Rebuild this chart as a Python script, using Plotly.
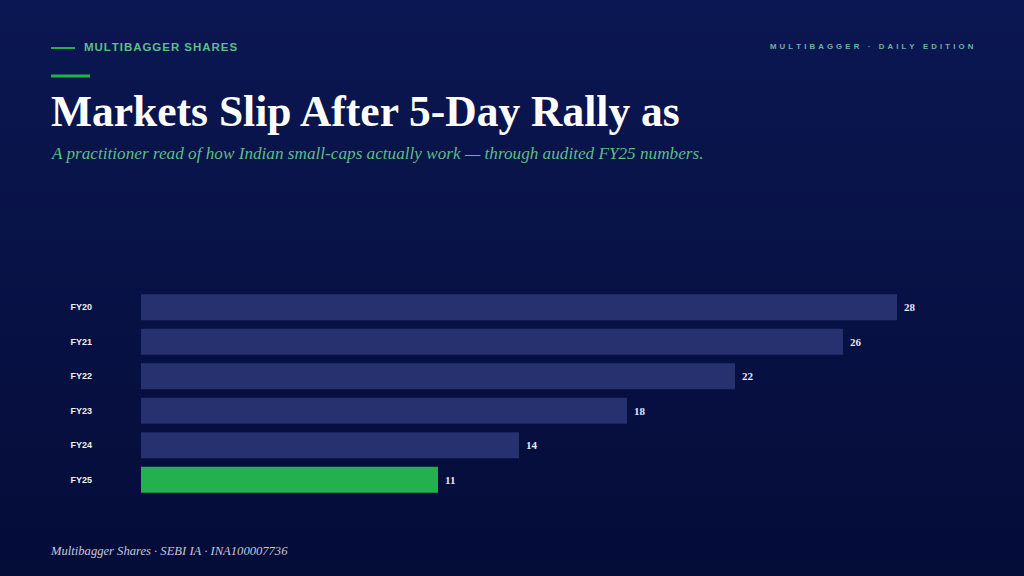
import plotly.graph_objects as go

# fiscal years and the values shown on each bar
years = ["FY20", "FY21", "FY22", "FY23", "FY24", "FY25"]
values = [28, 26, 22, 18, 14, 11]
highlight = "FY25"

kicker = "MULTIBAGGER SHARES"
edition = "MULTIBAGGER · DAILY EDITION"
title = "Markets Slip After 5-Day Rally as"
subtitle = "A practitioner read of how Indian small-caps actually work — through audited FY25 numbers."
footer = "Multibagger Shares · SEBI IA · INA100007736"

BAR = "#283170"
GREEN = "#22b24d"
ACCENT = "#5cbf86"


def spaced(s, gap):
    # poor man's letter-spacing, plotly has no css letter-spacing
    return gap.join(list(s))


colors = [GREEN if y == highlight else BAR for y in years]

fig = go.Figure()
fig.add_trace(go.Bar(
    x=values,
    y=years,
    orientation="h",
    marker=dict(color=colors, line=dict(width=0)),
    hoverinfo="skip",
))

# value labels just past the end of each bar
for y, v in zip(years, values):
    fig.add_annotation(
        x=v, y=y, xref="x", yref="y",
        text=str(v), showarrow=False,
        xanchor="left", xshift=5,
        font=dict(family="Liberation Serif", size=11, color="#e8e8f0", weight="bold"),
    )

W, H = 1024, 576
L, R, T, B = 141, 46, 290, 79
pw, ph = W - L - R, H - T - B


def px(x):
    return (x - L) / pw


def py(y):
    return (H - B - y) / ph


# background: fake vertical gradient with thin strips over the whole page
n = 36
top = (11, 23, 82)
bot = (4, 12, 56)
for i in range(n):
    t = i / (n - 1)
    c = tuple(round(top[k] + (bot[k] - top[k]) * t) for k in range(3))
    fig.add_shape(
        type="rect", xref="paper", yref="paper", layer="below",
        x0=px(-5), x1=px(W + 5),
        y0=py(H * (i + 1) / n + 1), y1=py(H * i / n),
        line=dict(width=0), fillcolor="rgb(%d,%d,%d)" % c,
    )

# header rules
fig.add_shape(type="line", xref="paper", yref="paper",
              x0=px(51), x1=px(75), y0=py(48), y1=py(48),
              line=dict(color=GREEN, width=2))
fig.add_shape(type="line", xref="paper", yref="paper",
              x0=px(51), x1=px(90), y0=py(76), y1=py(76),
              line=dict(color=GREEN, width=3))

texts = [
    (82, 47, spaced(kicker, "\u200a"), "Liberation Sans", 11.5, ACCENT, "bold", "normal", "left"),
    (976, 46, spaced(edition, "\u2009\u2009"), "Liberation Sans", 7.8, "#6ab5a0", "bold", "normal", "right"),
    (49, 111, title, "Liberation Serif", 43.5, "white", "bold", "normal", "left"),
    (49, 153, subtitle, "Liberation Serif", 17.2, ACCENT, "normal", "italic", "left"),
    (48, 551, footer, "Liberation Serif", 12.6, "#c4c8da", "normal", "italic", "left"),
]
for x, y, s, fam, size, col, w, style, anchor in texts:
    fig.add_annotation(
        x=px(x), y=py(y), xref="paper", yref="paper",
        text=s, showarrow=False, xanchor=anchor, yanchor="middle",
        font=dict(family=fam, size=size, color=col, weight=w, style=style),
    )

fig.update_layout(
    width=W, height=H,
    margin=dict(l=L, r=R, t=T, b=B),
    paper_bgcolor="#08123f",
    plot_bgcolor="rgba(0,0,0,0)",
    showlegend=False,
    bargap=0.25,
    xaxis=dict(range=[0, 31], visible=False, fixedrange=True),
    yaxis=dict(
        categoryorder="array", categoryarray=years[::-1],
        showgrid=False, zeroline=False, showline=False, ticks="",
        ticklabelstandoff=48,
        tickfont=dict(family="Liberation Sans", size=9, color="#eef0f6", weight="bold"),
        fixedrange=True,
    ),
)

fig.write_html("out.html", config={"displayModeBar": False},
               post_script="document.body.style.margin='0';")
